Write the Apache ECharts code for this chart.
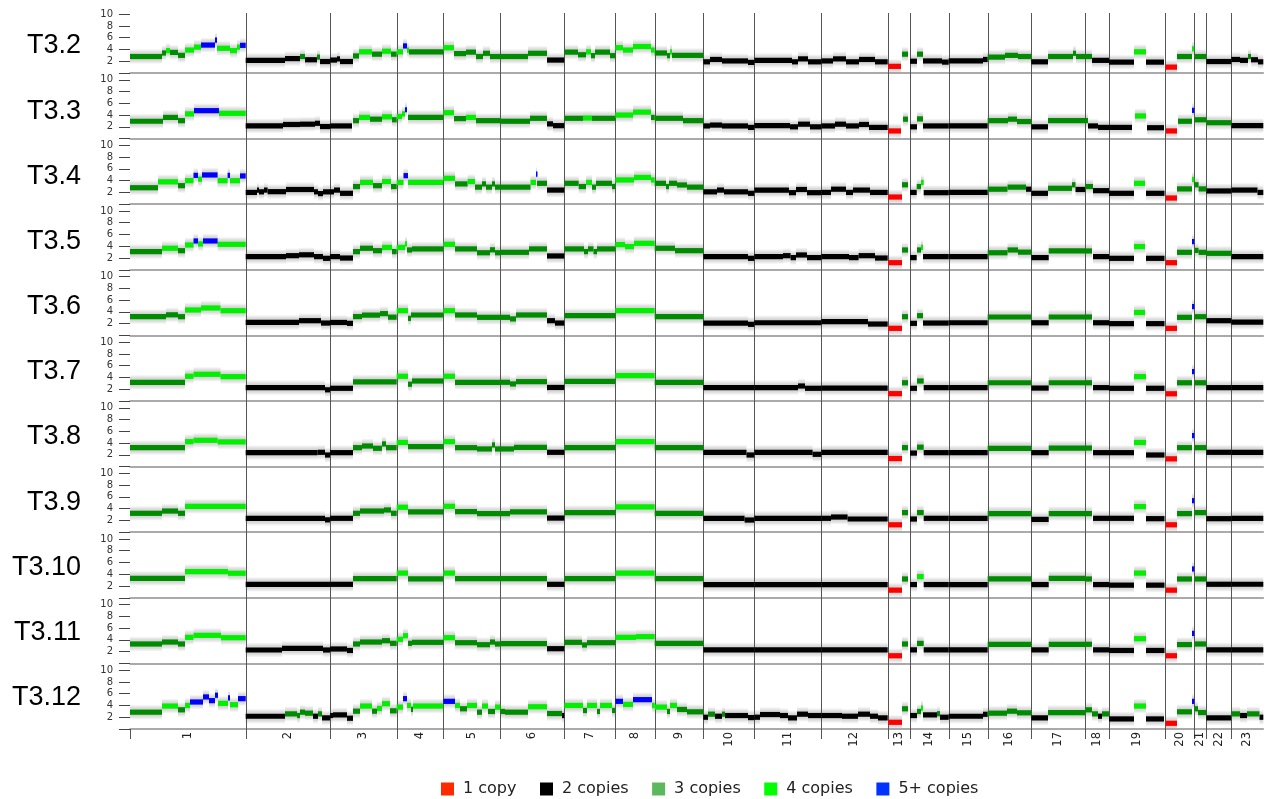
<!DOCTYPE html>
<html>
<head>
<meta charset="utf-8">
<script src="https://cdn.jsdelivr.net/npm/echarts@6/dist/echarts.min.js"></script>
<style>
html, body { margin: 0; background: #fff; }
#chart { width: 1271px; height: 799px; }
</style>
</head>
<body>
<div id="chart"></div>
<script>
// chromosome widths on the x axis (arbitrary units)
const chromosomes = ['1','2','3','4','5','6','7','8','9','10','11','12','13','14','15','16','17','18','19','20','21','22','23'];
const chromSizes = [115.7, 84.3, 66.7, 46.6, 57, 64, 51, 39.4, 48.6, 51, 67, 66.4, 22.3, 38.7, 39, 43.6, 54, 23.7, 56.3, 29, 12, 25, 32];
const sampleNames = ['T3.2', 'T3.3', 'T3.4', 'T3.5', 'T3.6', 'T3.7', 'T3.8', 'T3.9', 'T3.10', 'T3.11', 'T3.12'];
const stateNames = ['1 copy', '2 copies', '3 copies', '4 copies', '5+ copies'];
const yTickValues = [2, 4, 6, 8, 10];

// segments: [start, end, copy number estimate, state]
const segT3_2 = [
 [0,32,2.8,3],[32,36,3.4,3],[36,40,3.8,4],[40,48,3.5,3],[48,55,3.0,3],[55,64,3.9,4],[64,71,4.4,4],[71,85,4.75,5],[85,87,5.6,5],[87,100,4.2,4],[100,107,3.8,4],[107,110,4.4,4],[110,115.7,4.7,5],
 [115.7,155,2.15,2],[155,170,2.45,2],[170,175,2.8,3],[175,187,2.25,2],[187,190,2.7,3],[190,200,1.95,2],
 [200,207,2.2,2],[207,210,2.4,2],[210,223,1.95,2],[223,229,2.9,3],[229,242,3.6,4],[242,252,3.2,3],[252,261,3.7,4],[261,266.7,3.2,3],
 [266.7,273,3.6,4],[273,277,4.6,5],[277,279,3.9,4],[279,313.3,3.6,3],
 [313.3,324,4.3,4],[324,336,3.3,3],[336,346,3.55,3],[346,353,2.8,3],[353,360,3.35,3],[360,370.3,2.8,3],
 [370.3,398,2.8,3],[398,417,3.35,3],[417,434.3,2.2,2],
 [434.3,448,3.55,3],[448,456,3.1,3],[456,461,3.6,4],[461,465,2.95,3],[465,480,3.55,3],[480,485.3,2.95,3],
 [485.3,493,4.3,4],[493,503,3.9,4],[503,521,4.5,4],[521,524.7,3.9,4],
 [524.7,537,3.4,3],[537,540,2.95,3],[540,542,3.6,4],[542,573.3,3.0,3],
 [573.3,580,1.9,2],[580,592,2.3,2],[592,618,2.05,2],[618,624.3,1.8,2],
 [624.3,662,2.15,2],[662,668,1.9,2],[668,678,2.4,2],[678,691.3,1.9,2],
 [691.3,703,2.05,2],[703,716,2.4,2],[716,729,1.9,2],[729,745,2.3,2],[745,757.7,1.9,2],
 [758,771,1.13,1],[772,778,3.2,3],
 [780,787,2.0,2],[787,793,3.2,3],[793,812,2.05,2],[812,818.7,1.85,2],
 [818.7,853,2.05,2],[853,857.7,2.3,2],
 [857.7,875,2.7,3],[875,888,3.0,3],[888,901.3,2.8,3],
 [901.3,918,1.9,2],[918,943,2.8,3],[943,946,3.35,3],[946,955.3,2.8,3],
 [955.3,962,2.8,3],[962,979,2.15,2],
 [979,1004,1.85,2],[1004,1016,3.6,4],[1016,1034,1.85,2],
 [1035.3,1047,1.0,1],[1047,1062,2.8,3],[1062,1064.3,4.1,4],
 [1064.3,1076.3,2.8,3],
 [1076.3,1101.3,1.95,2],
 [1101.3,1110,2.3,2],[1110,1118,2.15,2],[1118,1121,2.8,3],[1121,1128,2.25,2],[1128,1133.3,1.9,2]
];
const segT3_3 = [
 [0,33,2.95,3],[33,48,3.6,3],[48,55,3.05,3],[55,64,4.2,4],[64,89,4.75,5],[89,115.7,4.3,4],
 [115.7,153,2.15,2],[153,170,2.4,2],[170,185,2.45,2],[185,190,2.6,2],[190,200,2.05,2],
 [200,222,2.15,2],[223,229,3.05,3],[229,240,3.6,4],[240,252,3.3,3],[252,262,3.7,4],[262,266.7,3.2,3],
 [266.7,272,3.75,4],[272,275,4.2,4],[275,277,4.9,5],[278,313.3,3.6,3],
 [313.3,324,4.4,4],[324,336,3.4,3],[336,346,3.6,4],[346,370.3,3.05,3],
 [370.3,400,2.95,3],[400,417,3.45,3],[417,423,2.5,2],[423,434.3,2.2,2],
 [434.3,453,3.45,3],[453,462,3.5,4],[462,485.3,3.45,3],
 [485.3,503,4.0,4],[503,521,4.5,4],[521,524.7,3.6,3],
 [524.7,553,3.45,3],[553,573.3,3.05,3],
 [573.3,580,2.15,2],[580,592,2.3,2],[592,618,2.15,2],[618,624.3,1.9,2],
 [624.3,660,2.2,2],[660,668,2.0,2],[668,680,2.45,2],[680,691.3,2.0,2],
 [691.3,705,2.15,2],[705,716,2.45,2],[716,729,2.15,2],[729,739,2.4,2],[739,757.7,1.9,2],
 [758,771,1.3,1],[773,778,3.3,3],
 [780,787,2.0,2],[787,793,3.35,3],[793,818.7,2.15,2],
 [818.7,857.7,2.15,2],
 [857.7,878,3.05,3],[878,887,3.3,3],[887,901.3,2.9,3],
 [901.3,918,2.0,2],[918,958,3.05,3],
 [958,968,2.15,2],[968,979,1.9,2],
 [979,1002,1.9,2],[1005,1016,3.85,4],[1017,1034,1.85,2],
 [1036,1047,1.3,1],[1048,1062,2.95,3],[1062,1064.3,4.8,5],
 [1064.3,1076.3,3.2,3],
 [1076.3,1101.3,2.7,3],
 [1101.3,1133.3,2.2,2]
];
const segT3_4 = [
 [0,28,2.8,3],[28,48,3.8,4],[48,55,3.15,3],[55,63.5,4.0,4],[63.5,68,4.9,5],[68,72,4.25,4],[72,87.6,4.97,5],[87.6,97.6,4.0,4],[97.6,100,4.9,5],[100,110,4.0,4],[110,115.7,4.8,5],
 [115.7,127,2.0,2],[127,129,2.4,2],[129,134,2.1,2],[134,137.6,2.4,2],[137.6,156,2.13,2],[156,184,2.5,2],[184,188,2.1,2],[188,193,1.8,2],[193,200,2.1,2],
 [200,204,2.1,2],[204,210,2.4,2],[210,223,1.85,2],[223,230,3.0,3],[230,243,3.7,4],[243,252,3.15,3],[252,261,3.85,4],[261,266.7,3.0,3],
 [266.7,273.5,3.7,4],[273.5,278,4.85,5],[278,313.3,3.7,4],
 [313.3,325,4.4,4],[325,337.6,3.45,3],[337.6,345,3.85,4],[345,352,2.9,3],[352,356,3.45,3],[356,362,2.9,3],[362,365,3.45,3],[365,370.3,2.9,3],
 [370.3,400.5,2.9,3],[400.5,406,3.7,4],[406,407,5.1,5],[407,417,3.55,3],[417,434.3,2.4,2],
 [434.3,448.7,3.55,3],[448.7,456,3.0,3],[456,462,3.7,4],[462,466,2.9,3],[466,482,3.55,3],[482,485.3,3.0,3],
 [485.3,504,4.12,4],[504,521,4.55,4],[521,524.7,4.12,4],
 [524.7,536,3.55,3],[536,539,3.0,3],[539,547,3.55,3],[547,557,3.27,3],[557,573.3,2.9,3],
 [573.3,587,2.1,2],[587,594,2.4,2],[594,618,2.1,2],[618,624.3,1.85,2],
 [624.3,659,2.4,2],[659,666,1.96,2],[666,677,2.5,2],[677,691.3,1.96,2],
 [691.3,701,2.0,2],[701,716,2.55,2],[716,723,2.0,2],[723,740,2.4,2],[740,757.7,2.0,2],
 [758,772,1.22,1],[772,778,3.3,3],
 [780,786.7,2.0,2],[786.7,791,3.0,3],[791,793.7,3.7,4],[793.7,818.7,1.96,2],
 [818.7,857.7,2.0,2],
 [857.7,877.5,2.55,3],[877.5,896,2.9,3],[896,901.3,2.55,2],
 [901.3,918,1.85,2],[918,942,2.7,3],[942,945.5,3.3,3],[945.5,955.3,2.5,2],
 [955.3,963,3.0,3],[963,979,2.3,2],
 [979,1004,1.85,2],[1004,1015,3.55,4],[1016,1034.5,1.85,2],
 [1035.6,1047,1.05,1],[1047,1062,2.6,3],[1062,1064.3,4.2,4],
 [1064.3,1068.6,3.3,3],[1068.6,1076.3,2.6,3],
 [1076.3,1101.3,2.25,2],
 [1101.3,1127.5,2.4,2],[1127.5,1133.3,2.0,2]
];
const segT3_5 = [
 [0,32,3.09,3],[32,48,3.66,4],[48,55,3.25,3],[55,63.5,4.22,4],[63.5,68,4.9,5],[68,73,4.4,4],[73,87.6,4.9,5],[87.6,115.7,4.33,4],
 [115.7,156,2.24,2],[156,169,2.4,2],[169,184,2.55,2],[184,193,2.24,2],[193,200,1.95,2],
 [200,210,2.24,2],[210,223,2.0,2],[223,230,3.09,3],[230,243,3.66,3],[243,252,3.25,3],[252,262,3.8,4],[262,266.7,3.09,3],
 [266.7,275,3.8,4],[275,277,4.4,4],[277,282,3.37,3],[282,313.3,3.55,3],
 [313.3,325,4.33,4],[325,347,3.55,3],[347,360,2.9,3],[360,365,3.4,3],[365,370.3,2.9,3],
 [370.3,399,2.97,3],[399,417,3.55,3],[417,434.3,2.35,2],
 [434.3,454,3.55,3],[454,458,3.09,3],[458,463.5,3.55,3],[463.5,467,3.09,3],[467,485.3,3.55,3],
 [485.3,495,4.28,4],[495,504,3.94,4],[504,524.7,4.5,4],
 [524.7,545,3.66,3],[545,573.3,3.25,3],
 [573.3,618,2.24,2],[618,624.3,1.95,2],
 [624.3,653,2.24,2],[653,660.6,2.4,2],[660.6,666,2.07,2],[666,677,2.52,2],[677,691.3,2.07,2],
 [691.3,719,2.24,2],[719,728.6,2.07,2],[728.6,745,2.4,2],[745,757.7,2.0,2],
 [758,772,1.21,1],[772,778,3.37,3],
 [780,786.7,2.07,2],[787,791,3.37,3],[791,793,3.8,4],[793,818.7,2.24,2],
 [818.7,857.7,2.24,2],
 [857.7,877.5,2.9,3],[877.5,888,3.37,3],[888,901.3,3.0,3],
 [901.3,918.7,2.07,2],[918.7,955.3,3.2,3],
 [955.3,962,3.2,3],[963,979,2.24,2],
 [979,1004,1.95,2],[1004,1015,3.94,4],[1016,1034.5,1.95,2],
 [1035.6,1047,1.21,1],[1047,1062,2.97,3],[1062,1064.3,4.79,5],
 [1064.3,1068.6,3.3,3],[1068.6,1076.3,2.97,3],
 [1076.3,1101.3,2.8,3],
 [1101.3,1133.3,2.24,2]
];
const segT3_6 = [
 [0,36,3.18,3],[36,48,3.5,3],[48,55,3.18,3],[55,71,4.32,4],[71,90.5,4.66,4],[90.5,115.7,4.2,4],
 [115.7,169,2.2,2],[169,191,2.5,2],[191,200,2.1,2],
 [200,217,2.2,2],[217,223,2.05,2],[223,232,3.2,3],[232,250,3.45,3],[250,258,3.7,3],[258,266.7,3.1,3],
 [266.7,278,4.2,4],[278,281,2.9,3],[281,313.3,3.47,3],
 [313.3,325,4.2,4],[325,347,3.47,3],[347,370.3,3.07,3],
 [370.3,380,3.07,3],[380,386,2.8,3],[386,417,3.47,3],[417,425,2.5,2],[425,434.3,2.1,2],
 [434.3,485.3,3.35,3],
 [485.3,524.7,4.2,4],
 [524.7,573.3,3.18,3],
 [573.3,618,2.1,2],[618,624.3,1.88,2],
 [624.3,691.3,2.15,2],
 [691.3,738,2.33,2],[738,757.7,1.93,2],
 [758,772,1.2,1],[772,778,3.18,3],
 [780,787,2.05,2],[787,793,3.35,3],[793,818.7,2.1,2],
 [818.7,857.7,2.15,2],
 [857.7,901.3,3.13,3],
 [901.3,918.7,2.15,2],[918.7,955.3,3.13,3],
 [955.3,962,3.13,3],[963,979,2.15,2],
 [979,1004,2.0,2],[1004,1015,3.9,4],[1016,1034.5,2.0,2],
 [1035.6,1047,1.2,1],[1047,1062,3.07,3],[1062,1064.3,4.9,5],
 [1064.3,1076.3,3.18,3],
 [1076.3,1101.3,2.5,2],
 [1101.3,1133.3,2.27,2]
];
const segT3_7 = [
 [0,55,3.18,3],[55,63.5,4.2,4],[63.5,90.5,4.54,4],[90.5,115.7,4.14,4],
 [115.7,195,2.27,2],[195,200,1.9,2],
 [200,223,2.16,2],[223,266.7,3.24,3],
 [266.7,278,4.2,4],[278,282,2.85,3],[282,313.3,3.4,3],
 [313.3,325,4.2,4],[325,370.3,3.18,3],
 [370.3,380,3.18,3],[380,386,2.9,3],[386,417,3.29,3],[417,434.3,2.3,2],
 [434.3,485.3,3.35,3],
 [485.3,524.7,4.31,4],
 [524.7,573.3,3.18,3],
 [573.3,624.3,2.27,2],
 [624.3,668,2.27,2],[668,675,2.55,2],[675,691.3,2.16,2],
 [691.3,757.7,2.2,2],
 [758,772,1.25,1],[772,778,3.1,3],
 [780,787,2.16,2],[787,793.7,3.4,3],[793.7,818.7,2.27,2],
 [818.7,857.7,2.27,2],
 [857.7,901.3,3.1,3],
 [901.3,918.7,2.2,2],[918.7,955.3,3.1,3],
 [955.3,962,3.1,3],[963,979,2.27,2],
 [979,1004,2.16,2],[1004,1016,4.14,4],[1016,1034.5,2.16,2],
 [1035.6,1047,1.23,1],[1047,1062,3.1,3],[1062,1064.3,5.0,5],
 [1064.3,1076.3,3.1,3],
 [1076.3,1101.3,2.27,2],
 [1101.3,1133.3,2.27,2]
];
const segT3_8 = [
 [0,55,3.22,3],[55,63.5,4.24,4],[63.5,87.6,4.47,4],[87.6,115.7,4.2,4],
 [115.7,187.6,2.37,2],[187.6,195,2.43,2],[195,200,1.97,2],
 [200,223,2.37,2],[223,232,3.22,3],[232,243,3.5,3],[243,252,3.11,3],[252,256,3.85,3],[256,266.7,3.22,3],
 [266.7,278,4.1,4],[278,313.3,3.39,3],
 [313.3,325,4.24,4],[325,347,3.22,3],[347,362,3.0,3],[362,365,3.68,3],[365,370.3,3.0,3],
 [370.3,384,3.0,3],[384,417,3.28,3],[417,434.3,2.43,2],
 [434.3,485.3,3.22,3],
 [485.3,524.7,4.24,4],
 [524.7,573.3,3.22,3],
 [573.3,616.5,2.43,2],[616.5,624.3,1.97,2],
 [624.3,682.6,2.43,2],[682.6,691.3,2.09,2],
 [691.3,757.7,2.43,2],
 [758,772,1.37,1],[772,778,3.22,3],
 [780,787,2.3,2],[787,793.7,3.3,3],[793.7,818.7,2.37,2],
 [818.7,857.7,2.37,2],
 [857.7,901.3,3.11,3],
 [901.3,918.7,2.37,2],[918.7,955.3,3.15,3],
 [955.3,962,3.15,3],[963,979,2.37,2],
 [979,1004,2.37,2],[1004,1016,4.1,4],[1016,1034.5,1.97,2],
 [1035.6,1047,1.32,1],[1047,1062,3.22,3],[1062,1064.3,5.27,5],
 [1064.3,1076.3,3.22,3],
 [1076.3,1101.3,2.43,2],
 [1101.3,1133.3,2.43,2]
];
const segT3_9 = [
 [0,32,3.21,3],[32,48,3.6,3],[48,55,3.21,3],[55,115.7,4.4,4],
 [115.7,195,2.36,2],[195,200,2.1,2],
 [200,223,2.36,2],[223,230,3.21,3],[230,254,3.6,3],[254,261,3.78,3],[261,266.7,3.21,3],
 [266.7,278,4.24,4],[278,313.3,3.44,3],
 [313.3,325,4.4,4],[325,347,3.5,3],[347,370.3,3.16,3],
 [370.3,380,3.16,3],[380,417,3.44,3],[417,434.3,2.4,2],
 [434.3,485.3,3.33,3],
 [485.3,524.7,4.3,4],
 [524.7,573.3,3.21,3],
 [573.3,614.6,2.36,2],[614.6,624.3,2.07,2],
 [624.3,691.3,2.36,2],
 [691.3,701,2.36,2],[701,717.6,2.58,2],[717.6,757.7,2.24,2],
 [758,772,1.26,1],[772,778,3.33,3],
 [780,787,2.24,2],[787,793.7,3.33,3],[793.7,818.7,2.36,2],
 [818.7,857.7,2.36,2],
 [857.7,901.3,3.16,3],
 [901.3,918.7,2.18,2],[918.7,955.3,3.16,3],
 [955.3,962,3.16,3],[963,979,2.36,2],
 [979,1004,2.36,2],[1004,1016,4.35,4],[1016,1034.5,2.3,2],
 [1035.6,1047,1.26,1],[1047,1062,3.16,3],[1062,1064.3,5.36,5],
 [1064.3,1076.3,3.33,3],
 [1076.3,1101.3,2.3,2],
 [1101.3,1133.3,2.36,2]
];
const segT3_10 = [
 [0,55,3.31,3],[55,98,4.45,4],[98,115.7,4.17,4],
 [115.7,200,2.29,2],
 [200,223,2.29,2],[223,266.7,3.26,3],
 [266.7,278,4.2,4],[278,313.3,3.2,3],
 [313.3,325,4.2,4],[325,370.3,3.26,3],
 [370.3,417,3.26,3],[417,434.3,2.29,2],
 [434.3,485.3,3.26,3],
 [485.3,524.7,4.2,4],
 [524.7,573.3,3.26,3],
 [573.3,624.3,2.25,2],
 [624.3,691.3,2.25,2],
 [691.3,757.7,2.25,2],
 [758,772,1.3,1],[772,778,3.2,3],
 [780,787,2.25,2],[787,793.7,3.6,4],[793.7,818.7,2.25,2],
 [818.7,857.7,2.25,2],
 [857.7,901.3,3.2,3],
 [901.3,918.7,2.25,2],[918.7,955.3,3.3,3],
 [955.3,962,3.2,3],[963,979,2.25,2],
 [979,1004,2.15,2],[1004,1016,4.2,4],[1016,1034.5,2.15,2],
 [1035.6,1047,1.3,1],[1047,1062,3.2,3],[1062,1064.3,4.9,5],
 [1064.3,1076.3,3.2,3],
 [1076.3,1101.3,2.3,2],
 [1101.3,1133.3,2.3,2]
];
const segT3_11 = [
 [0,32,3.3,3],[32,48,3.63,3],[48,55,3.3,3],[55,63.5,4.43,4],[63.5,91,4.77,4],[91,115.7,4.37,4],
 [115.7,152,2.28,2],[152,193,2.56,2],[193,200,2.28,2],
 [200,217,2.45,2],[217,223,2.2,2],[223,230,3.3,3],[230,252,3.63,3],[252,260,3.86,3],[260,266.7,3.41,3],
 [266.7,273,4.09,4],[273,278,4.71,4],[278,282,3.41,3],[282,313.3,3.58,3],
 [313.3,325,4.37,4],[325,347,3.52,3],[347,360,3.18,3],[360,365,3.63,3],[365,370.3,3.3,3],
 [370.3,417,3.35,3],[417,434.3,2.5,2],
 [434.3,452,3.58,3],[452,457,3.13,3],[457,485.3,3.52,3],
 [485.3,506,4.43,4],[506,524.7,4.55,4],
 [524.7,573.3,3.41,3],
 [573.3,624.3,2.3,2],
 [624.3,691.3,2.3,2],
 [691.3,757.7,2.3,2],
 [758,772,1.3,1],[772,778,3.3,3],
 [780,787,2.3,2],[787,793.7,3.4,3],[793.7,818.7,2.3,2],
 [818.7,857.7,2.3,2],
 [857.7,901.3,3.25,3],
 [901.3,918.7,2.3,2],[918.7,955.3,3.25,3],
 [955.3,962,3.25,3],[963,979,2.3,2],
 [979,1004,2.2,2],[1004,1016,4.2,4],[1016,1034.5,2.2,2],
 [1035.6,1047,1.3,1],[1047,1062,3.2,3],[1062,1064.3,5.1,5],
 [1064.3,1076.3,3.3,3],
 [1076.3,1101.3,2.3,2],
 [1101.3,1133.3,2.3,2]
];
const segT3_12 = [
 [0,32,2.86,3],[32,48,3.9,4],[48,55,3.26,3],[55,60,4.0,4],[60,73,4.59,5],[73,79,5.45,5],[79,85,4.82,5],[85,88,5.74,5],[88,98,4.36,4],[98,100,5.28,5],[100,108,4.13,4],[108,115.7,5.16,5],
 [115.7,155,2.17,2],[155,167,2.57,3],[167,170,2.29,3],[170,175,2.86,3],[175,183,2.69,3],[183,188,2.17,2],[188,192,2.57,3],[192,200,1.89,2],
 [200,203,2.29,2],[203,217,2.4,2],[217,223,1.83,2],[223,230,3.03,3],[230,242,3.9,4],[242,247,3.03,3],[247,252,3.49,4],[252,260,4.3,4],[260,266.7,3.09,3],
 [266.7,273,3.72,4],[273,277,5.16,5],[277,281,4.0,4],[281,283,3.32,3],[283,313.3,3.9,4],
 [313.3,325,4.7,5],[325,330,4.0,4],[330,337,3.44,3],[337,347,4.0,4],[347,352,2.86,3],[352,358,3.9,4],[358,365,2.98,3],[365,370.3,3.72,4],
 [370.3,375,2.98,3],[375,398,2.86,3],[398,417,3.78,4],[417,432,2.63,3],[432,434.3,2.29,2],
 [434.3,453,4.0,4],[453,457,3.15,3],[457,467,4.0,4],[467,470,2.98,3],[470,482,4.0,4],[482,485.3,3.15,3],
 [485.3,493,4.7,5],[493,503,4.18,4],[503,522,4.99,5],[522,524.7,4.0,4],
 [524.7,537,3.72,4],[537,540,2.98,3],[540,547,4.0,4],[547,557,3.32,3],[557,573.3,2.92,3],
 [573.3,578,2.0,2],[578,585,2.52,3],[585,592,2.17,2],[592,595,2.52,3],[595,618,2.29,2],[618,624.3,1.94,2],
 [624.3,630,2.0,2],[630,650,2.46,2],[650,658,2.29,2],[658,667,1.89,2],[667,678,2.52,2],[678,691.3,2.29,2],
 [691.3,712,2.29,2],[712,728,2.17,2],[728,740,2.52,2],[740,748,2.17,2],[748,757.7,1.89,2],
 [758,772,1.14,1],[772,778,3.44,3],
 [780,787,2.29,2],[787,791,2.98,3],[791,793,3.55,4],[793,807,2.4,2],[807,810,2.6,3],[810,818.7,2.0,2],
 [818.7,853,2.17,2],[853,857.7,2.5,2],
 [857.7,877,2.69,3],[877,887,3.03,3],[887,901.3,2.75,3],
 [901.3,918,1.89,2],[918,955.3,2.8,3],
 [955.3,962,3.26,3],[962,968,2.57,3],[968,972,2.17,2],[972,979,2.57,3],
 [979,1004,1.71,2],[1004,1016,3.9,4],[1016,1034,1.71,2],
 [1035.3,1047,0.97,1],[1047,1062,2.92,3],[1062,1064.3,4.7,5],
 [1064.3,1068,3.44,3],[1068,1076.3,2.8,3],
 [1076.3,1101.3,1.89,2],
 [1101.3,1110,2.57,3],[1110,1117,2.29,2],[1117,1129.5,2.57,3],[1129.5,1133.3,2.0,2]
];
const sampleSegments = [segT3_2, segT3_3, segT3_4, segT3_5, segT3_6, segT3_7, segT3_8, segT3_9, segT3_10, segT3_11, segT3_12];

const segColors = ['#ff0000', '#000000', '#008c00', '#00f000', '#0000ff'];
const legendColors = ['#ff2a00', '#000000', '#5cb85c', '#00ff00', '#0033ff'];

const chromStarts = [];
let acc = 0;
chromSizes.forEach(s => { chromStarts.push(acc); acc += s; });
const genomeLen = acc;
const chromCenters = chromStarts.map((s, i) => s + chromSizes[i] / 2);

const plotLeft = 130;
const plotWidth = 1133.3;
const panelTop = 7.4;
const panelH = 65.6;
const yMax = 11.15;
const bandHalf = 1.3;

// grey haze standing in for the probe-level scatter around each segment
const bandFill = {
 type: 'linear', x: 0, y: 0, x2: 0, y2: 1,
 colorStops: [
 { offset: 0, color: 'rgba(160,160,160,0)' },
 { offset: 0.2, color: 'rgba(160,160,160,0.35)' },
 { offset: 0.35, color: 'rgba(160,160,160,0.5)' },
 { offset: 0.65, color: 'rgba(160,160,160,0.5)' },
 { offset: 0.8, color: 'rgba(160,160,160,0.35)' },
 { offset: 1, color: 'rgba(160,160,160,0)' }
 ]
};

function renderBand(params, api) {
 const a = api.coord([api.value(0), api.value(2) + bandHalf]);
 const b = api.coord([api.value(1), api.value(2) - bandHalf]);
 return {
 type: 'rect',
 shape: { x: a[0], y: a[1], width: b[0] - a[0], height: b[1] - a[1] },
 style: { fill: bandFill }
 };
}

function renderSegment(params, api) {
 const a = api.coord([api.value(0), api.value(2)]);
 const b = api.coord([api.value(1), api.value(2)]);
 return {
 type: 'rect',
 shape: { x: a[0], y: a[1] - 2.6, width: Math.max(b[0] - a[0], 1.5), height: 5.2 },
 style: { fill: segColors[api.value(3) - 1] }
 };
}

const grids = [];
const xAxes = [];
const yAxes = [];
const series = [];

sampleNames.forEach((name, k) => {
 grids.push({ left: plotLeft, width: plotWidth, top: panelTop + k * panelH, height: panelH });
 xAxes.push({
 gridIndex: k, type: 'value', min: 0, max: genomeLen,
 axisLine: { show: true, lineStyle: { color: '#8f8f8f', width: 1.5 } },
 axisTick: { show: false }, axisLabel: { show: false }, splitLine: { show: false }
 });
 yAxes.push({
 gridIndex: k, type: 'value', min: 0, max: yMax,
 axisLine: { show: false },
 axisTick: { show: true, length: 11, customValues: [0].concat(yTickValues), lineStyle: { color: '#444' } },
 axisLabel: { customValues: yTickValues, margin: 17, fontSize: 10, color: '#333', fontFamily: 'DejaVu Sans' },
 splitLine: { show: false }
 });
 const segs = sampleSegments[k];
 series.push({
 type: 'custom', xAxisIndex: k, yAxisIndex: k, silent: true, z: 1,
 renderItem: renderBand, data: segs, encode: { x: [0, 1], y: 2 }
 });
 stateNames.forEach((st, s) => {
 series.push({
 name: st, type: 'custom', xAxisIndex: k, yAxisIndex: k, silent: true, z: 3,
 itemStyle: { color: legendColors[s] },
 renderItem: renderSegment,
 data: segs.filter(d => d[3] === s + 1),
 encode: { x: [0, 1], y: 2 }
 });
 });
});

// overlay grid for chromosome boundaries and labels
const ov = sampleNames.length;
grids.push({ left: plotLeft, width: plotWidth, top: 13, height: panelTop + ov * panelH - 13 });
xAxes.push({ gridIndex: ov, type: 'value', min: 0, max: genomeLen, show: false });
yAxes.push({ gridIndex: ov, type: 'value', min: 0, max: 1, show: false });

series.push({
 type: 'custom', xAxisIndex: ov, yAxisIndex: ov, silent: true, z: 2,
 data: chromStarts.map((s, i) => [s, i]),
 renderItem: (params, api) => {
 const top = api.coord([api.value(0), 1]);
 const bot = api.coord([api.value(0), 0]);
 const px = Math.round(top[0]) + 0.5;
 const y1 = api.value(1) === 0 ? bot[1] : top[1];
 return {
 type: 'line',
 shape: { x1: px, y1: y1, x2: px, y2: bot[1] + 10 },
 style: { stroke: '#555', lineWidth: 1 }
 };
 }
});
series.push({
 type: 'custom', xAxisIndex: ov, yAxisIndex: ov, silent: true, z: 2,
 data: chromCenters.map(c => [c, 0]),
 renderItem: (params, api) => {
 const p = api.coord([api.value(0), 0]);
 return {
 type: 'text', x: p[0], y: p[1] + 3, rotation: Math.PI / 2,
 style: {
 text: chromosomes[params.dataIndex], fontSize: 11.5, fontFamily: 'DejaVu Sans',
 fill: '#222', align: 'right', verticalAlign: 'middle'
 }
 };
 }
});

const chart = echarts.init(document.getElementById('chart'));
chart.setOption({
 animation: false,
 backgroundColor: '#fff',
 grid: grids,
 xAxis: xAxes,
 yAxis: yAxes,
 legend: {
 data: stateNames, left: 436, top: 776, itemWidth: 13, itemHeight: 13, itemGap: 23.5,
 icon: 'rect', selectedMode: false,
 textStyle: { fontSize: 16, fontFamily: 'DejaVu Sans', color: '#222', padding: [0, 0, 0, 4] }
 },
 graphic: sampleNames.map((n, k) => ({
 type: 'text', x: 81, y: 46 + 65.15 * k, silent: true,
 style: { text: n, fontSize: 27, fontFamily: 'Liberation Sans', fill: '#000', align: 'right', verticalAlign: 'middle' }
 })),
 series: series
});
</script>
</body>
</html>
